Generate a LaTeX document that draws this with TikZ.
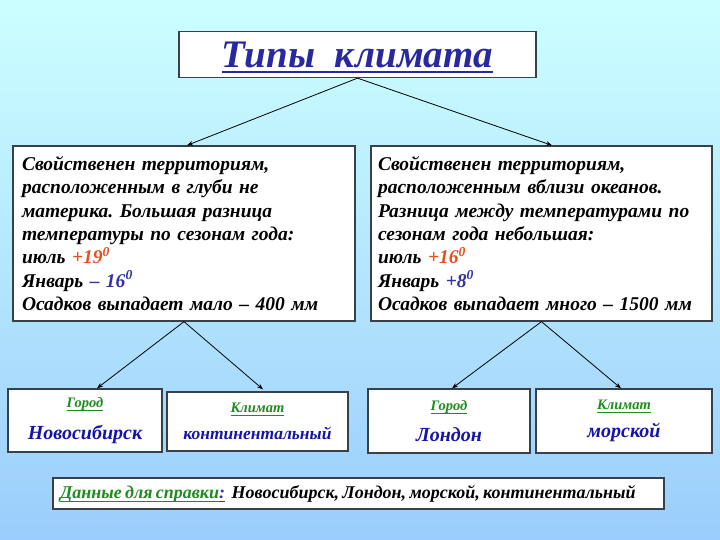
\documentclass[tikz,border=0pt]{standalone}
\usepackage{fontspec}
\setmainfont{Liberation Serif}
\usetikzlibrary{arrows.meta,calc}
\definecolor{bgtop}{RGB}{204,255,255}
\definecolor{bgbot}{RGB}{155,205,252}
\definecolor{ttl}{RGB}{40,40,160}
\definecolor{hot}{RGB}{230,80,30}
\definecolor{cold}{RGB}{50,50,170}
\definecolor{city}{RGB}{20,20,170}
\definecolor{grn}{RGB}{30,140,30}
\definecolor{frame}{RGB}{55,65,75}
\newcommand{\myul}[3]{\setbox0\hbox{#3}\rlap{\smash{\rule[-\dimexpr#2+#1\relax]{\wd0}{#1}}}\box0}
\frenchspacing
\begin{document}
\begin{tikzpicture}[x=1pt,y=-1pt,
  box/.style={draw=frame, line width=1.3pt, fill=white, inner sep=0pt, font=\bfseries\itshape},
  bigtext/.style={box, minimum height=175, align=left, font=\fontsize{19.5}{23.3}\selectfont\bfseries\itshape},
  small/.style={box, align=center},
  arr/.style={-{Stealth[length=6pt,width=4.5pt]}, line width=0.8pt}]
\shade[top color=bgtop, bottom color=bgbot] (0,0) rectangle (720,540);
\useasboundingbox (0,0) rectangle (720,540);

\node[box, minimum width=357, minimum height=46] (t) at (357.5,54.5)
  {\fontsize{39}{42}\selectfont\color{ttl}\raisebox{-2pt}{\myul{2pt}{4pt}{Типы\ \ климата}}};

\node[bigtext, minimum width=342, text width=324] (L) at (184,233.5)
  {Свойственен территориям,\\
   расположенным в глуби не\\
   материка. Большая разница\\
   температуры по сезонам года:\\
   июль {\color{hot}+19\textsuperscript{0}}\\
   Январь {\color{cold}– 16\textsuperscript{0}}\\
   Осадков выпадает мало – 400 мм};

\node[bigtext, minimum width=341, text width=327] (R) at (541.5,233.5)
  {Свойственен территориям,\\
   расположенным вблизи океанов.\\
   Разница между температурами по\\
   сезонам года небольшая:\\
   июль {\color{hot}+16\textsuperscript{0}}\\
   Январь {\color{cold}+8\textsuperscript{0}}\\
   Осадков выпадает много – 1500 мм};

\node[small, minimum width=154, minimum height=63] (n1) at (85,420.5)
  {{\fontsize{14.5}{16}\selectfont\color{grn}\myul{1pt}{2.5pt}{Город}}\\[13pt]
   {\fontsize{20}{22}\selectfont\color{city}Новосибирск}};
\node[small, minimum width=181, minimum height=59] (n2) at (257.5,421.5)
  {{\fontsize{14.5}{16}\selectfont\color{grn}\myul{1pt}{2.5pt}{Климат}}\\[13pt]
   {\fontsize{17.5}{20}\selectfont\color{city}континентальный}};
\node[small, minimum width=162, minimum height=64] (n3) at (449,421)
  {{\fontsize{14.5}{16}\selectfont\color{grn}\myul{1pt}{2.5pt}{Город}}\\[13pt]
   {\fontsize{20}{22}\selectfont\color{city}Лондон}};
\node[small, minimum width=176, minimum height=64] (n4) at (624,421)
  {{\fontsize{14.5}{16}\selectfont\color{grn}\myul{1pt}{2.5pt}{Климат}}\\[13pt]
   {\fontsize{20}{22}\selectfont\color{city}морской}};

\node[box, minimum width=611, minimum height=31, text width=597, align=left] (d) at (358.5,493.5)
  {\fontsize{18}{20}\selectfont{\color{grn}\myul{1pt}{2.5pt}{Данные для справки}}{\color{cold}\myul{1pt}{2.5pt}{:}}\ \ Новосибирск, Лондон, морской, континентальный};

\draw[arr] (t.south) -- ($(L.north)+(3,0)$);
\draw[arr] (t.south) -- ($(R.north)+(10.5,0)$);
\draw[arr] (L.south) -- ($(n1.north)+(12,0)$);
\draw[arr] (L.south) -- ($(n2.north)+(5.5,-2)$);
\draw[arr] (R.south) -- ($(n3.north)+(3,0)$);
\draw[arr] (R.south) -- ($(n4.north)+(-3,0)$);
\end{tikzpicture}
\end{document}
